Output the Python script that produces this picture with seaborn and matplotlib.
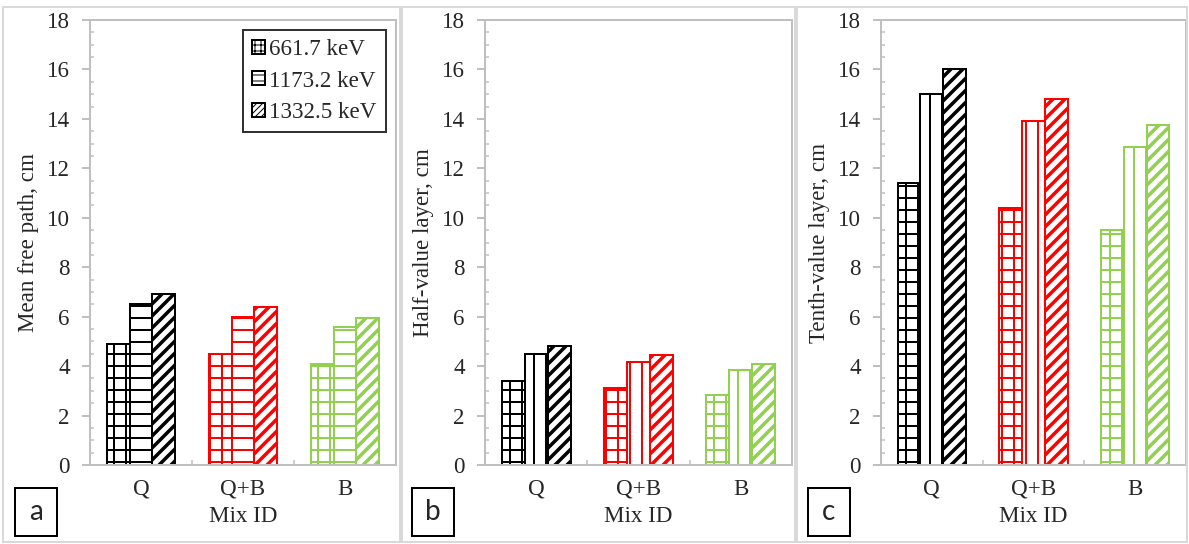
import numpy as np
import pandas as pd
import matplotlib
matplotlib.use("Agg")
import matplotlib.pyplot as plt
from matplotlib.patches import Rectangle, Patch
from matplotlib.ticker import MultipleLocator, FixedLocator
import seaborn as sns

# ---------------- data ----------------
mixes = ["Q", "Q+B", "B"]
energies = ["661.7 keV", "1173.2 keV", "1332.5 keV"]
mfp = {"661.7 keV": [4.9, 4.5, 4.1],
       "1173.2 keV": [6.5, 6.0, 5.6],
       "1332.5 keV": [6.9, 6.4, 5.95]}
hvl = {"661.7 keV": [3.4, 3.1, 2.85],
       "1173.2 keV": [4.5, 4.15, 3.85],
       "1332.5 keV": [4.8, 4.45, 4.1]}
tvl = {"661.7 keV": [11.4, 10.4, 9.5],
       "1173.2 keV": [15.0, 13.9, 12.85],
       "1332.5 keV": [16.0, 14.8, 13.75]}
ylabels = ["Mean free path, cm", "Half-value layer, cm", "Tenth-value layer, cm"]
panel_tags = ["a", "b", "c"]
xlabel = "Mix ID"
mix_colors = ["#000000", "#FF0000", "#92D050"]

sns.set_style("white")
plt.rcParams["font.family"] = ["Liberation Serif", "DejaVu Serif"]

W, H = 1189, 544
DPI = 72
fig = plt.figure(figsize=(W / DPI, H / DPI), dpi=DPI)

def fx(x):
    return x / W

def fy(y):
    return 1 - y / H

# panel border boxes
for x0, x1 in [(3, 400), (402, 795), (797, 1187)]:
    fig.add_artist(Rectangle((fx(x0), fy(542)), fx(x1 - x0), (542 - 7) / H,
                             transform=fig.transFigure, fill=False,
                             edgecolor="#D9D9D9", lw=2))

axes_px = [(90, 396), (485, 792), (881, 1186)]
top_px, bot_px = 20, 465
hatches = [["+", "-", "//"], ["+", "|", "//"], ["+", "|", "//"]]
hatch_lw = [2.0, 2.0, 3.5]
datasets = [mfp, hvl, tvl]
tag_boxes = [(15, 57), (412, 454), (808, 850)]

for p, (data, (l, r)) in enumerate(zip(datasets, axes_px)):
    ax = fig.add_axes([fx(l), fy(bot_px), fx(r - l), (bot_px - top_px) / H])
    df = pd.DataFrame([(m, e, data[e][i]) for e in energies for i, m in enumerate(mixes)],
                      columns=["mix", "energy", "value"])
    sns.barplot(data=df, x="mix", y="value", hue="energy", order=mixes,
                hue_order=energies, width=0.675, gap=0, ax=ax, legend=False,
                errorbar=None)
    for hi, cont in enumerate(ax.containers):
        for mi, bar in enumerate(cont):
            bar.set_facecolor("white")
            bar.set_edgecolor(mix_colors[mi])
            bar.set_linewidth(2)
            bar.set_hatch(hatches[p][hi])
            if hasattr(bar, "set_hatch_linewidth"):
                bar.set_hatch_linewidth(hatch_lw[hi])
    ax.set_xlim(-0.5, 2.5)
    ax.set_ylim(0, 18)
    ax.yaxis.set_major_locator(MultipleLocator(2))
    ax.yaxis.set_minor_locator(MultipleLocator(0.5))
    ax.xaxis.set_minor_locator(FixedLocator([0.5, 1.5]))
    for s in ax.spines.values():
        s.set_visible(True)
        s.set_color("#BFBFBF")
        s.set_linewidth(2)
    ax.tick_params(axis="y", which="major", direction="out", length=8, width=2,
                   color="#BFBFBF", labelsize=23, pad=12, left=True)
    ax.tick_params(axis="y", which="minor", direction="in", length=4, width=1.5,
                   color="#BFBFBF", left=True)
    ax.tick_params(axis="x", which="both", direction="in", length=5, width=1.5,
                   color="#BFBFBF", labelsize=23, pad=14, bottom=True)
    ax.set_xlabel(xlabel, fontsize=23, labelpad=6)
    ax.set_ylabel(ylabels[p], fontsize=23, labelpad=8)
    ax.grid(False)

    if p == 0:
        handles = []
        for hi, e in enumerate(energies):
            h = Patch(facecolor="white", edgecolor="black", hatch=hatches[0][hi] * 2,
                      linewidth=2, label=e)
            handles.append(h)
        leg = ax.legend(handles=handles, loc="upper right",
                        bbox_to_anchor=(1 - 10 / (r - l), 1 - 10 / (bot_px - top_px)),
                        frameon=True, fancybox=False, fontsize=23,
                        handlelength=0.55, handleheight=0.55, handletextpad=0.2,
                        borderpad=0.4, labelspacing=0.45, borderaxespad=0)
        leg.get_frame().set_edgecolor("black")
        leg.get_frame().set_linewidth(2)

    bx0, bx1 = tag_boxes[p]
    fig.add_artist(Rectangle((fx(bx0), fy(536)), fx(bx1 - bx0), (536 - 488) / H,
                             transform=fig.transFigure, fill=False,
                             edgecolor="black", lw=2))
    fig.text(fx((bx0 + bx1) / 2), fy(512), panel_tags[p], ha="center", va="center",
             fontsize=28, family=["Lato", "DejaVu Sans"])

fig.savefig("out.png", dpi=DPI)
